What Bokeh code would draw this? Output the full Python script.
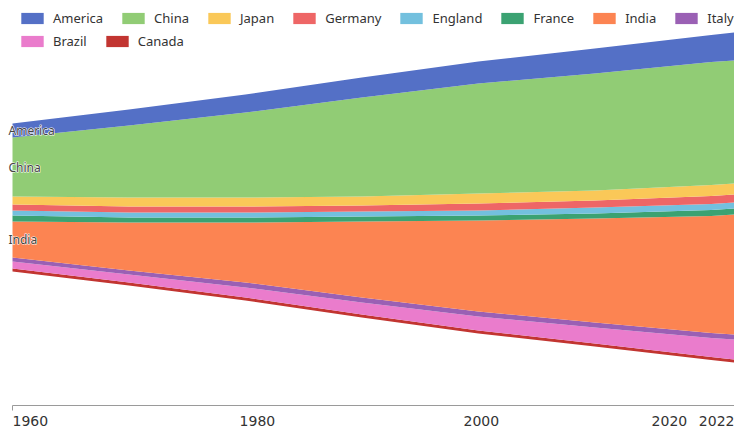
from bokeh.plotting import figure
from bokeh.models import (Range1d, Legend, LegendItem, LabelSet,
                          ColumnDataSource)
from bokeh.core.properties import value
from bokeh.embed import file_html
from bokeh.resources import INLINE

# ---- data -------------------------------------------------------------
years = [1960, 1970, 1980, 1990, 2000, 2010, 2020, 2022]
countries = ["America", "China", "Japan", "Germany", "England",
             "France", "India", "Italy", "Brazil", "Canada"]

america = [14, 16, 18, 20, 22, 25, 27, 28]
china = [59, 72, 85, 99, 110, 117, 123, 123]
japan = [8, 9, 9, 9, 10, 10, 11, 11]
germany = [6, 6, 6, 6, 7, 7, 8, 8]
england = [5, 5, 5, 5, 5, 6, 6, 6]
france = [6, 5, 5, 5, 5, 5, 6, 6]
india = [36, 48, 60, 76, 91, 104, 117, 120]
italy = [4, 4, 5, 5, 5, 5, 5, 5]
brazil = [7, 8, 10, 12, 14, 16, 19, 20]
canada = [3, 3, 3, 3, 3, 3, 3, 3]

tick_years = [1960, 1980, 2000, 2020, 2022]

colors = ["#5470c6", "#91cc75", "#fac858", "#ee6666", "#73c0de",
          "#3ba272", "#fc8452", "#9a60b4", "#ea7ccc", "#c23531"]

series = dict(zip(countries, [america, china, japan, germany, england,
                              france, india, italy, brazil, canada]))

# ---- figure -----------------------------------------------------------
W, H = 734, 430
left_pad = 12                       # space left of the first year
yr0, yr1 = years[0], years[-1]
px_per_year = (W - left_pad) / (yr1 - yr0)
x_start = yr0 - left_pad / px_per_year

centre = 197                        # pixel row of the stream's centre line
p = figure(width=W, height=H, x_range=Range1d(x_start, yr1),
           y_range=Range1d(centre - H, centre),
           x_axis_location=None, y_axis_location=None,
           toolbar_location=None, output_backend="svg",
           min_border=0)
p.outline_line_color = None
p.grid.visible = False
p.background_fill_color = "white"

# centred (silhouette) baseline: the stream is symmetric about y = 0
totals = [sum(series[c][i] for c in countries) for i in range(len(years))]
lower = [-t / 2 for t in totals]

renderers = {}
label_rows = {"x": [], "y": [], "text": []}
for name, color in reversed(list(zip(countries, colors))):
    vals = series[name]
    upper = [lo + v for lo, v in zip(lower, vals)]
    r = p.varea(x=years, y1=lower, y2=upper, fill_color=color)
    renderers[name] = r
    if vals[0] >= 10:
        label_rows["x"].append(years[0])
        label_rows["y"].append((lower[0] + upper[0]) / 2)
        label_rows["text"].append(name)
    lower = upper

# series names at the left end of the wide bands: white halo, dark text
label_src = ColumnDataSource(label_rows)
for fill, outline in (("white", "white"), ("#444444", None)):
    p.add_layout(LabelSet(x="x", y="y", text="text", source=label_src,
                          x_offset=-4, text_align="left",
                          text_baseline="middle",
                          text_font=value("Noto Sans"),
                          text_font_size="12px", text_color=fill,
                          text_outline_color=outline))

# ---- time axis --------------------------------------------------------
axis_y = centre - 405
axis_color = "#9a9a9a"
p.segment(x0=[yr0], y0=[axis_y], x1=[yr1], y1=[axis_y],
          line_color=axis_color, line_width=1)
p.segment(x0=[yr0], y0=[axis_y], x1=[yr0], y1=[axis_y - 5],
          line_color=axis_color, line_width=1)

tick_src = ColumnDataSource(dict(
    x=tick_years,
    text=[str(y) for y in tick_years],
    align=["left", "center", "center", "right", "right"],
    dx=[0, 12, 3, -24, 0],
))
p.add_layout(LabelSet(x="x", y=axis_y - 15, text="text", source=tick_src,
                      x_offset="dx", text_align="align",
                      text_baseline="middle",
                      text_font=value("DejaVu Sans"),
                      text_font_size="14px", text_color="#333333"))

# ---- legend (two flowing rows) ---------------------------------------
def make_legend(names, vy):
    lg = Legend(items=[LegendItem(label=n, renderers=[renderers[n]])
                       for n in names],
                orientation="horizontal", location=(18, vy),
                padding=0, margin=0, spacing=16, label_standoff=7,
                glyph_width=28, glyph_height=14, label_height=14,
                label_text_font="Noto Sans", label_text_font_size="13px",
                label_text_color="#333333",
                border_line_color=None, background_fill_alpha=0)
    p.add_layout(lg)

make_legend(countries[:8], 403)
make_legend(countries[8:], 380)

open("out.html", "w").write(file_html(p, INLINE))
